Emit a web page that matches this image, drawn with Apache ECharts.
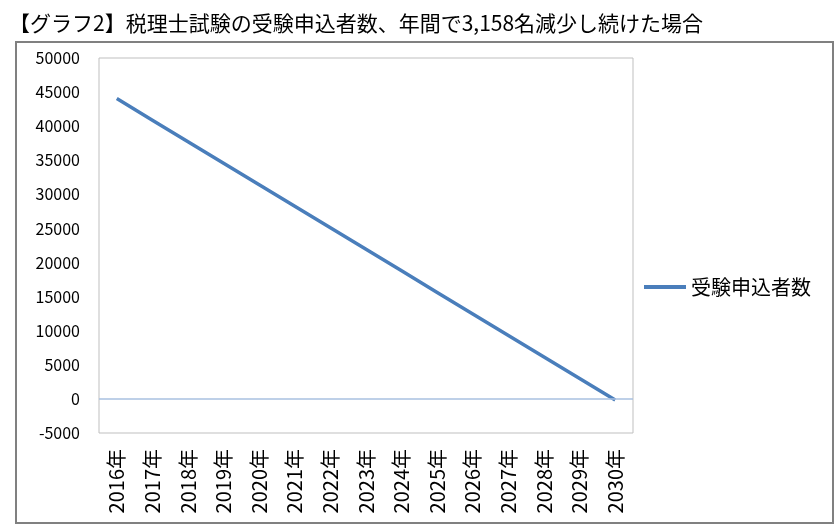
<!DOCTYPE html>
<html><head><meta charset="utf-8">
<script src="https://cdn.jsdelivr.net/npm/echarts@6/dist/echarts.min.js"></script>
<style>html,body{margin:0;padding:0;background:#fff}#c{width:837px;height:527px}</style>
</head><body><div id="c"></div>
<script>
const titleText = '【グラフ2】税理士試験の受験申込者数、年間で3,158名減少し続けた場合';
const seriesName = '受験申込者数';
const categories = ['2016年','2017年','2018年','2019年','2020年','2021年','2022年','2023年','2024年','2025年','2026年','2027年','2028年','2029年','2030年'];
const applicants = [44044, 40886, 37728, 34570, 31412, 28254, 25096, 21938, 18780, 15622, 12464, 9306, 6148, 2990, -168];
const yMin = -5000, yMax = 50000, yStep = 5000;

const FONT = '"Noto Sans CJK JP", "Noto Sans", sans-serif';
const chart = echarts.init(document.getElementById('c'));
chart.setOption({
  animation: false,
  textStyle: {fontFamily: FONT},
  title: {text: titleText, left: 4, top: 8,
    textStyle: {fontFamily: FONT, fontSize: 21, fontWeight: 'normal', color: '#000'}},
  graphic: [{type: 'rect', shape: {x: 16, y: 42, width: 817, height: 481},
    style: {fill: null, stroke: '#808080', lineWidth: 2}, silent: true, z: 100}],
  grid: {left: 99, right: 204, top: 58, bottom: 94, show: true, borderColor: '#bfbfbf', borderWidth: 1, backgroundColor: '#fff', containLabel: false},
  legend: {data: [{name: seriesName, icon: 'rect'}], orient: 'vertical', left: 639, top: 272,
    itemWidth: 42, itemHeight: 4, itemGap: 6,
    textStyle: {fontFamily: FONT, fontSize: 20, color: '#000', padding: [0,0,0,0]}},
  xAxis: {type: 'category', data: categories, boundaryGap: true,
    axisLine: {show: false}, axisTick: {show: false},
    axisLabel: {rotate: 90, margin: 16, fontSize: 20, color: '#000', fontFamily: FONT, interval: 0}},
  yAxis: {type: 'value', min: yMin, max: yMax, interval: yStep,
    splitLine: {show: false}, axisLine: {show: false}, axisTick: {show: false},
    axisLabel: {fontSize: 16, color: '#000', margin: 19, fontFamily: FONT,
      formatter: function (v) { return String(v); }}},
  series: [{name: seriesName, type: 'line', data: applicants, symbol: 'none',
    lineStyle: {color: '#4a7ebb', width: 3.5}, itemStyle: {color: '#4a7ebb'},
    markLine: {silent: true, symbol: ['none','none'], label: {show: false},
      lineStyle: {color: '#a9c0e0', width: 1.5, type: 'solid'}, data: [{yAxis: 0}]},
    z: 3}]
});
</script></body></html>
